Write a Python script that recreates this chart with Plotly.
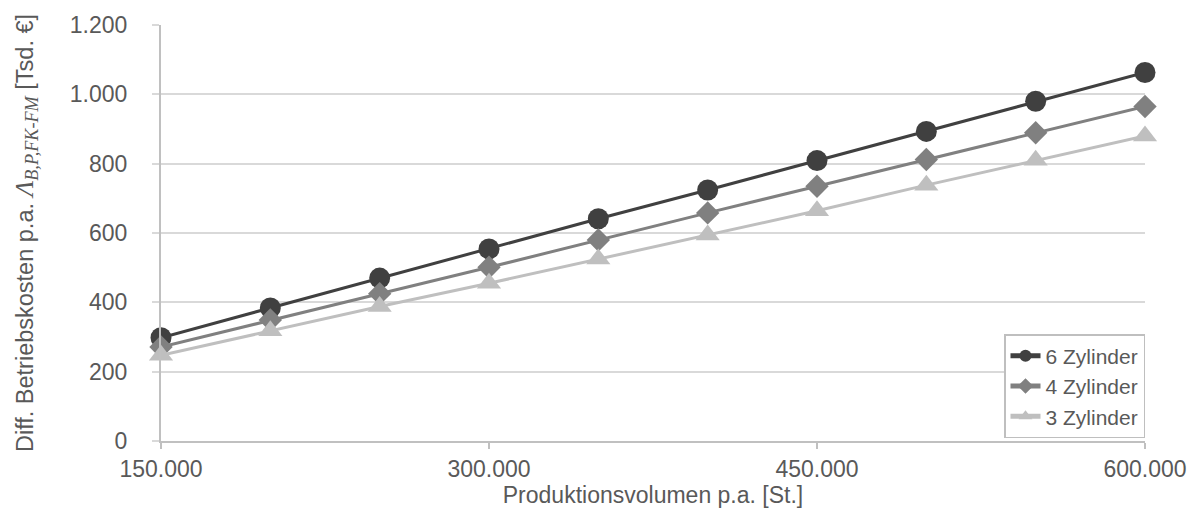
import plotly.graph_objects as go

# Produktionsvolumen p.a. [St.]
volumen = [150000, 200000, 250000, 300000, 350000, 400000, 450000, 500000, 550000, 600000]

# Differenz der Betriebskosten p.a. [Tsd. €]
zyl6 = [298, 384, 470, 554, 641, 724, 809, 893, 980, 1063]
zyl4 = [271, 349, 425, 501, 580, 658, 735, 812, 889, 965]
zyl3 = [247, 318, 388, 455, 525, 594, 664, 738, 810, 880]

x_ticks = [150000, 300000, 450000, 600000]
x_tick_text = ["150.000", "300.000", "450.000", "600.000"]
y_ticks = [0, 200, 400, 600, 800, 1000, 1200]
y_tick_text = ["0", "200", "400", "600", "800", "1.000", "1.200"]

series = [
    ("6 Zylinder", zyl6, "#404040", "circle", 21),
    ("4 Zylinder", zyl4, "#808080", "diamond", 18),
    ("3 Zylinder", zyl3, "#bfbfbf", "triangle-up", 21),
]

fig = go.Figure()
for name, vals, col, sym, size in series:
    fig.add_trace(go.Scatter(
        x=volumen, y=vals, name=name, mode="lines+markers",
        line=dict(color=col, width=3),
        marker=dict(color=col, symbol=sym, size=size),
        cliponaxis=False,
    ))

text_col = "#595959"
fig.update_layout(
    width=1199, height=512,
    margin=dict(l=161, r=51, t=23, b=71),
    paper_bgcolor="white", plot_bgcolor="white",
    font=dict(family="Liberation Sans, Arial, sans-serif", size=23, color=text_col),
    showlegend=True,
    legend=dict(
        x=1.0, y=0.007, xanchor="right", yanchor="bottom",
        bgcolor="white", bordercolor="#bfbfbf", borderwidth=1.5,
        font=dict(size=21, color=text_col),
        itemsizing="constant", tracegroupgap=0,
    ),
    xaxis=dict(
        range=[150000, 600000], tickvals=x_ticks, ticktext=x_tick_text,
        showgrid=False, showline=True, linecolor="#c0c0c0", linewidth=2,
        ticks="outside", ticklen=6, tickcolor="#c0c0c0", tickwidth=1.5,
        zeroline=False,
        title=dict(text="Produktionsvolumen p.a. [St.]", standoff=2,
                   font=dict(size=23)),
    ),
    yaxis=dict(
        range=[0, 1200], tickvals=y_ticks, ticktext=y_tick_text,
        showgrid=True, gridcolor="#d9d9d9", gridwidth=1.5,
        showline=True, linecolor="#c0c0c0", linewidth=2,
        ticks="outside", ticklen=7, tickcolor="#d9d9d9", tickwidth=1.5,
        ticklabelstandoff=20,
        zeroline=False,
        title=dict(
            text=("Diff. Betriebskosten p.a. "
                  "<span style='font-family:Liberation Serif;font-size:26px'><i>Λ</i>"
                  "<sub><i>B,P,FK-FM</i></sub></span> [Tsd. €]"),
            standoff=30, font=dict(size=23.5),
        ),
    ),
)

fig.write_html("out.html")
